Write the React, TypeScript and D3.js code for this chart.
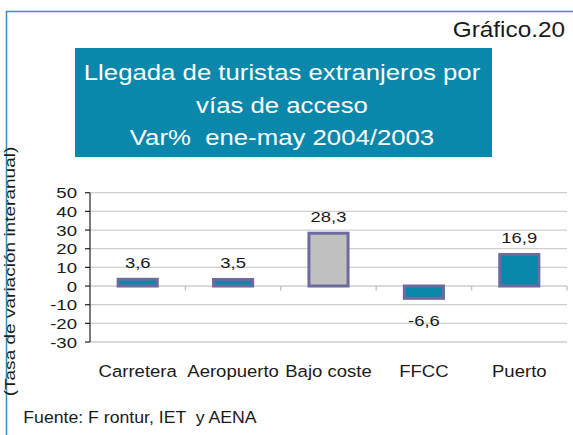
import React from "react";
import * as d3 from "d3";

const categories = ["Carretera", "Aeropuerto", "Bajo coste", "FFCC", "Puerto"];
const values = [3.6, 3.5, 28.3, -6.6, 16.9];
const highlighted = ["Bajo coste"];
const yTicks = [-30, -20, -10, 0, 10, 20, 30, 40, 50];
const titleLines = ["Llegada de turistas extranjeros por", "vías de acceso", "Var%  ene-may 2004/2003"];
const chartNumber = "Gráfico.20";
const yAxisTitle = "(Tasa de variación interanual)";
const sourceNote = "Fuente: F rontur, IET  y AENA";

const W = 573;
const H = 435;
const TEAL = "#0A88AC";
const BAR_STROKE = "#6C6A9E";
const GREY = "#C0C0C0";
const FONT = "'Liberation Sans', Arial, Helvetica, sans-serif";

const fmt = d3
  .formatLocale({ decimal: ",", thousands: ".", grouping: [3], currency: ["", "€"], minus: "-" })
  .format(".1f");

function STxt(props: {
  x: number; y: number; sx?: number; size: number; anchor?: string; fill?: string; rotate?: number; children: any;
}) {
  const { x, y, sx = 1, size, anchor = "start", fill = "#1a1a1a", rotate = 0, children } = props;
  return (
    <text
      transform={`translate(${x},${y}) rotate(${rotate}) scale(${sx},1)`}
      fontSize={size}
      fontFamily={FONT}
      textAnchor={anchor}
      fill={fill}
      style={{ whiteSpace: "pre" }}
    >
      {children}
    </text>
  );
}

export default function App() {
  const left = 90;
  const right = 567;
  const y = d3.scaleLinear().domain([-30, 50]).range([342, 192.7]);
  const x = d3
    .scaleBand<string>()
    .domain(categories)
    .range([left, right])
    .paddingInner(0.59)
    .paddingOuter(0.295);
  const step = x.step();
  const y0 = y(0);

  return (
    <svg
      width={W}
      height={H}
      viewBox={`0 0 ${W} ${H}`}
      style={{ position: "absolute", left: 0, top: 0, background: "#fff" }}
    >
      <rect x={0} y={0} width={W} height={H} fill="#fff" />
      {/* frame */}
      <path d={`M6.5,${H} V11.5 H${W}`} fill="none" stroke="#3B8DC4" strokeWidth={1.5} />

      <STxt x={565} y={37} size={22} sx={1.107} anchor="end">{chartNumber}</STxt>

      {/* title box */}
      <rect x={75} y={48} width={417} height={109} fill={TEAL} />
      {titleLines.map((t, i) => (
        <STxt key={i} x={282} y={80 + i * 32.5} size={23} sx={1.12} anchor="middle" fill="#ffffff">
          {t}
        </STxt>
      ))}

      {/* gridlines */}
      {yTicks.map((t) => (
        <line key={t} x1={left} x2={right} y1={y(t)} y2={y(t)} stroke="#CFCFCF" strokeWidth={1.3} />
      ))}
      {/* category ticks on zero line */}
      {categories.map((c, i) => (
        <line
          key={c}
          x1={left + (i + 1) * step}
          x2={left + (i + 1) * step}
          y1={y0}
          y2={y0 + 4.5}
          stroke="#BDBDBD"
          strokeWidth={1.3}
        />
      ))}
      {/* y axis */}
      <line x1={left} x2={left} y1={y(50)} y2={y(-30)} stroke="#222" strokeWidth={1.2} />
      {yTicks.map((t) => (
        <g key={t}>
          <line x1={left - 5} x2={left} y1={y(t)} y2={y(t)} stroke="#222" strokeWidth={1.2} />
          <STxt x={77} y={y(t) + 5.6} size={15.5} sx={1.2} anchor="end">{String(t)}</STxt>
        </g>
      ))}

      {/* bars */}
      {categories.map((c, i) => {
        const v = values[i];
        const top = y(Math.max(0, v));
        const bot = y(Math.min(0, v));
        const bx = x(c) as number;
        return (
          <rect
            key={c}
            x={bx}
            y={top}
            width={x.bandwidth()}
            height={bot - top}
            fill={highlighted.includes(c) ? GREY : TEAL}
            stroke={BAR_STROKE}
            strokeWidth={3}
          />
        );
      })}
      {/* value labels */}
      {categories.map((c, i) => {
        const v = values[i];
        const cx = (x(c) as number) + x.bandwidth() / 2;
        const ly = v >= 0 ? y(v) - 11.2 : y(v) + 27.7;
        return (
          <STxt key={c} x={cx} y={ly} size={15.5} sx={1.19} anchor="middle">
            {fmt(v)}
          </STxt>
        );
      })}
      {/* category labels */}
      {categories.map((c) => (
        <STxt key={c} x={(x(c) as number) + x.bandwidth() / 2} y={376.5} size={17} sx={1.09} anchor="middle">
          {c}
        </STxt>
      ))}

      {/* y axis title */}
      <STxt x={14.5} y={271.5} size={15} sx={1.27} anchor="middle" rotate={-90}>
        {yAxisTitle}
      </STxt>

      {/* source */}
      <STxt x={23.3} y={423} size={17} sx={1.04}>{sourceNote}</STxt>
    </svg>
  );
}
